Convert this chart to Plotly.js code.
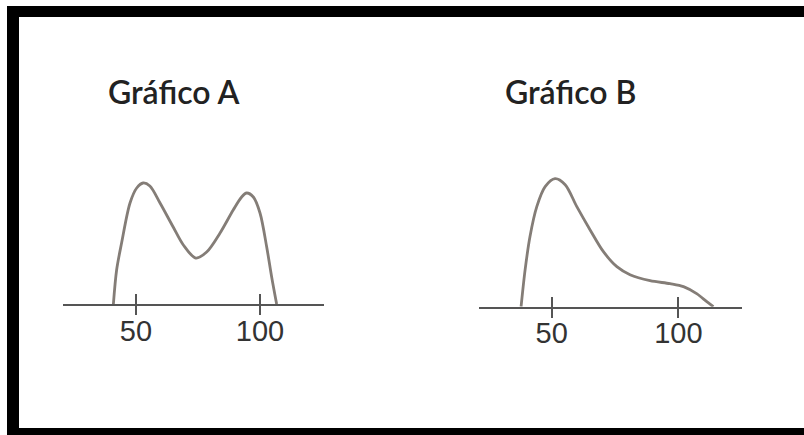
<!DOCTYPE html>
<html>
<head>
<meta charset="utf-8">
<script src="https://cdn.plot.ly/plotly-3.0.1.min.js"></script>
<style>html,body{margin:0;padding:0;background:#fff;}#chart{width:804px;height:435px;}</style>
</head>
<body>
<div id="chart"></div>
<script>
// Gráfico A (bimodal)
const titleA = "Gráfico A";
const aX = [40.9, 42.2, 44.2, 47.6, 50.3, 52.9, 55.6, 59.7, 65.0, 69.1, 74.1, 78.5, 83.9, 89.2, 92.6, 94.6, 97.3, 100, 102.7, 104.7, 106.7];
const aY = [0, 34, 61, 101, 116, 121, 118, 101, 77, 59, 46, 52, 71, 94, 107, 111, 107, 91, 57, 27, 0];
// Gráfico B (right-skewed)
const titleB = "Gráfico B";
const bX = [37.9, 39.5, 41.4, 44.1, 47.4, 51.3, 55.3, 59.9, 65.1, 70.4, 75.7, 80.9, 88.8, 96.7, 102, 107.2, 111.2, 113.8];
const bY = [0, 37, 70, 100, 120, 128, 122, 100, 77, 55, 40, 32, 26, 23, 20, 13, 5, 0];
// ticks
const tickVals = [50, 100];
const tickText = ["50", "100"];

const curveColor = "#847d77";
const axisColor = "#555555";

const traces = [
  {x: aX, y: aY, xaxis: "x", yaxis: "y", type: "scatter", mode: "lines",
   line: {color: curveColor, width: 2.8, shape: "spline", smoothing: 0.9}, hoverinfo: "skip"},
  {x: bX, y: bY, xaxis: "x2", yaxis: "y2", type: "scatter", mode: "lines",
   line: {color: curveColor, width: 2.8, shape: "spline", smoothing: 0.9}, hoverinfo: "skip"}
];

function mainAxis(domain, range, anchor) {
  return {domain: domain, range: range, anchor: anchor, showline: true, linecolor: axisColor, linewidth: 2,
    showgrid: false, zeroline: false, ticks: "", tickmode: "array", tickvals: tickVals, ticktext: tickText,
    tickfont: {family: "Liberation Sans, Arial, sans-serif", size: 29, color: "#333333"}, fixedrange: true};
}
function overAxis(over, range, anchor, dir) {
  return {overlaying: over, range: range, anchor: anchor, showline: false, showgrid: false, zeroline: false,
    ticks: dir, ticklen: 10, tickwidth: 2, tickcolor: axisColor, tickmode: "array", tickvals: tickVals,
    showticklabels: false, fixedrange: true};
}
const rangeA = [20.6, 125.8];
const rangeB = [21.3, 125.1];

const titleFont = {family: "Lato, sans-serif", size: 32, color: "#222222", weight: 600};

const layout = {
  width: 804, height: 435, margin: {l: 0, r: 0, t: 0, b: 0},
  paper_bgcolor: "#ffffff", plot_bgcolor: "rgba(0,0,0,0)", showlegend: false,
  xaxis: mainAxis([0.0784, 0.4030], rangeA, "y"),
  yaxis: {domain: [0.3011, 0.6690], range: [0, 160], visible: false, fixedrange: true},
  xaxis2: mainAxis([0.5958, 0.9229], rangeB, "y2"),
  yaxis2: {domain: [0.2950, 0.6628], range: [0, 160], visible: false, fixedrange: true},
  xaxis3: overAxis("x", rangeA, "y", "inside"),
  xaxis4: overAxis("x2", rangeB, "y2", "inside"),
  xaxis5: overAxis("x", rangeA, "y", "outside"),
  xaxis6: overAxis("x2", rangeB, "y2", "outside"),
  annotations: [
    {text: titleA, xref: "paper", yref: "paper", x: 106/804, y: 1 - 91/435, xanchor: "left", yanchor: "middle",
     showarrow: false, font: titleFont},
    {text: titleB, xref: "paper", yref: "paper", x: 503/804, y: 1 - 91/435, xanchor: "left", yanchor: "middle",
     showarrow: false, font: titleFont}
  ],
  shapes: [
    {type: "rect", xref: "paper", yref: "paper", x0: 7/804, x1: 1, y0: 1 - 17/435, y1: 1 - 6/435, fillcolor: "#000", line: {width: 0}},
    {type: "rect", xref: "paper", yref: "paper", x0: 7/804, x1: 19/804, y0: 0, y1: 1 - 6/435, fillcolor: "#000", line: {width: 0}},
    {type: "rect", xref: "paper", yref: "paper", x0: 7/804, x1: 1, y0: 0, y1: 7/435, fillcolor: "#000", line: {width: 0}}
  ]
};
// invisible traces so the overlay tick axes render
[["x3", "y", rangeA], ["x4", "y2", rangeB], ["x5", "y", rangeA], ["x6", "y2", rangeB]].forEach(function (p) {
  traces.push({x: [p[2][0]], y: [0], xaxis: p[0], yaxis: p[1], mode: "markers", marker: {opacity: 0}, hoverinfo: "skip"});
});

Plotly.newPlot("chart", traces, layout, {staticPlot: true, displayModeBar: false});
</script>
</body>
</html>
